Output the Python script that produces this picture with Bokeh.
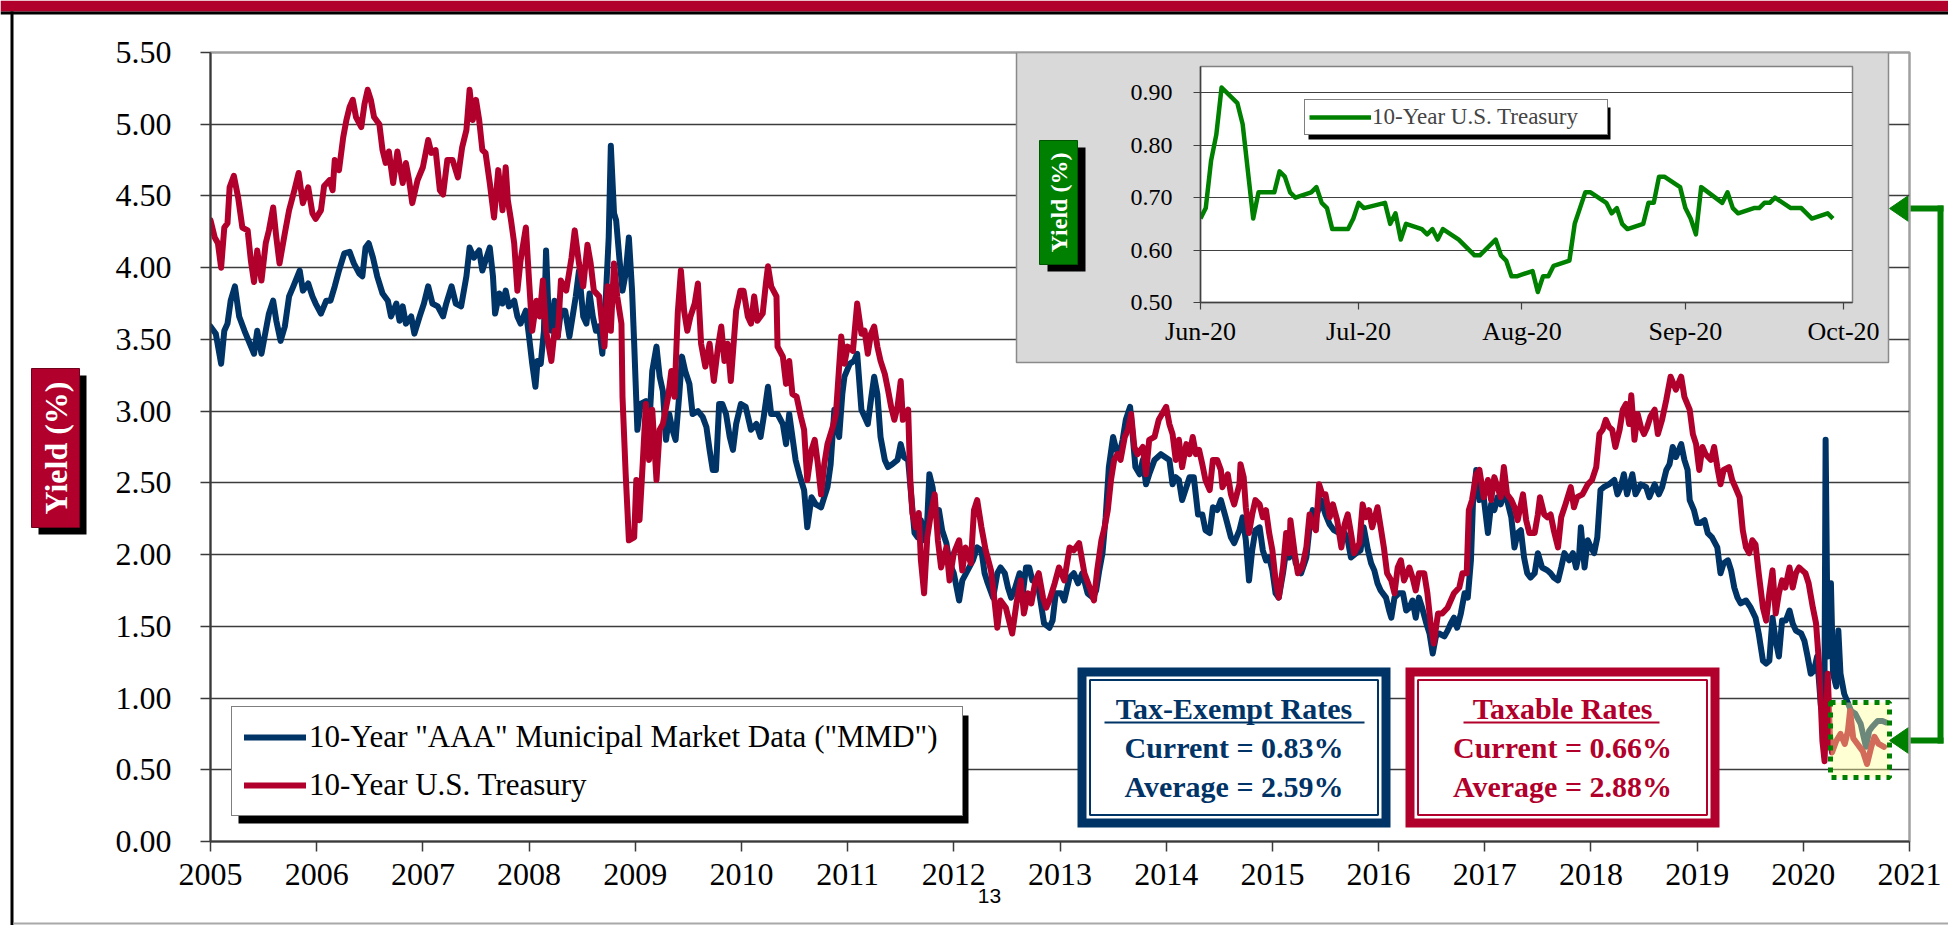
import math
from datetime import datetime
from bokeh.plotting import figure
from bokeh.layouts import column
from bokeh.models import (Range1d, FixedTicker, NumeralTickFormatter, DatetimeTickFormatter,
                          Legend, LegendItem)
from bokeh.embed import file_html
from bokeh.resources import INLINE
from bokeh.core.properties import value

# ---------------------------------------------------------------- data
year_ticks = list(range(2005, 2022))
year_labels = [str(y) for y in year_ticks]
yield_ticks = [0.0, 0.5, 1.0, 1.5, 2.0, 2.5, 3.0, 3.5, 4.0, 4.5, 5.0, 5.5]

tsy_year = [
    2005.00, 2005.04, 2005.07, 2005.10, 2005.13, 2005.16, 2005.18, 2005.22, 2005.26, 2005.30, 2005.35, 2005.38, 2005.41, 2005.44,
    2005.48, 2005.52, 2005.55, 2005.59, 2005.62, 2005.65, 2005.70, 2005.74, 2005.79, 2005.83, 2005.87, 2005.92, 2005.96, 2005.99,
    2006.04, 2006.07, 2006.12, 2006.15, 2006.17, 2006.21, 2006.25, 2006.28, 2006.31, 2006.34, 2006.37, 2006.42, 2006.45, 2006.48,
    2006.51, 2006.54, 2006.59, 2006.62, 2006.65, 2006.68, 2006.72, 2006.76, 2006.81, 2006.84, 2006.87, 2006.90, 2006.95,
    2007.00, 2007.05, 2007.08, 2007.12, 2007.16, 2007.19, 2007.23, 2007.28, 2007.33, 2007.37, 2007.41, 2007.44, 2007.47, 2007.50,
    2007.53, 2007.56, 2007.59, 2007.63, 2007.67, 2007.71, 2007.75, 2007.78, 2007.80, 2007.83, 2007.86, 2007.89, 2007.92, 2007.97,
    2008.00, 2008.03, 2008.07, 2008.10, 2008.13, 2008.16, 2008.21, 2008.24, 2008.27, 2008.30, 2008.35, 2008.40, 2008.43, 2008.47,
    2008.51, 2008.55, 2008.58, 2008.61, 2008.66, 2008.71, 2008.74, 2008.77, 2008.80, 2008.83, 2008.87, 2008.88, 2008.91, 2008.94, 2008.99,
    2009.01, 2009.04, 2009.07, 2009.10, 2009.13, 2009.16, 2009.20, 2009.23, 2009.26, 2009.31, 2009.34, 2009.37, 2009.40, 2009.43,
    2009.46, 2009.49, 2009.52, 2009.56, 2009.59, 2009.62, 2009.66, 2009.70, 2009.74, 2009.78, 2009.81, 2009.84, 2009.87, 2009.90,
    2009.95, 2009.99,
    2010.02, 2010.06, 2010.09, 2010.12, 2010.15, 2010.20, 2010.23, 2010.25, 2010.28, 2010.33, 2010.34, 2010.39, 2010.42, 2010.45,
    2010.48, 2010.52, 2010.56, 2010.59, 2010.62, 2010.66, 2010.69, 2010.72, 2010.75, 2010.78, 2010.81, 2010.86, 2010.89, 2010.92,
    2010.94, 2010.97,
    2011.00, 2011.05, 2011.09, 2011.13, 2011.16, 2011.19, 2011.22, 2011.25, 2011.28, 2011.31, 2011.35, 2011.38, 2011.41, 2011.44,
    2011.47, 2011.50, 2011.52, 2011.57, 2011.59, 2011.61, 2011.64, 2011.67, 2011.69, 2011.72, 2011.75, 2011.785, 2011.82, 2011.85,
    2011.88, 2011.93, 2011.96,
    2012.00, 2012.05, 2012.08, 2012.11, 2012.16, 2012.19, 2012.22, 2012.26, 2012.30, 2012.35, 2012.38, 2012.41, 2012.44, 2012.49,
    2012.52, 2012.55, 2012.59, 2012.63, 2012.66, 2012.70, 2012.73, 2012.77, 2012.80, 2012.84, 2012.87, 2012.90, 2012.95, 2012.99,
    2013.04, 2013.09, 2013.13, 2013.18, 2013.23, 2013.28, 2013.32, 2013.35, 2013.39, 2013.42, 2013.45, 2013.48, 2013.51, 2013.54,
    2013.57, 2013.61, 2013.64, 2013.67, 2013.70, 2013.73, 2013.78, 2013.81, 2013.84, 2013.89, 2013.93,
    2014.00, 2014.03, 2014.06, 2014.09, 2014.12, 2014.15, 2014.19, 2014.22, 2014.25, 2014.28, 2014.31, 2014.34, 2014.37, 2014.41,
    2014.44, 2014.48, 2014.515, 2014.53, 2014.58, 2014.61, 2014.64, 2014.69, 2014.70, 2014.73, 2014.75, 2014.78, 2014.81, 2014.84,
    2014.88, 2014.91, 2014.94, 2014.97,
    2015.00, 2015.03, 2015.06, 2015.10, 2015.13, 2015.16, 2015.17, 2015.21, 2015.24, 2015.28, 2015.32, 2015.35, 2015.38, 2015.41,
    2015.44, 2015.47, 2015.50, 2015.54, 2015.57, 2015.61, 2015.65, 2015.68, 2015.71, 2015.74, 2015.77, 2015.82, 2015.85, 2015.88,
    2015.91, 2015.94, 2015.99,
    2016.02, 2016.05, 2016.08, 2016.12, 2016.15, 2016.18, 2016.21, 2016.24, 2016.29, 2016.32, 2016.35, 2016.38, 2016.43, 2016.46,
    2016.49, 2016.52, 2016.56, 2016.60, 2016.65, 2016.68, 2016.71, 2016.76, 2016.79, 2016.83, 2016.85, 2016.88, 2016.92, 2016.95, 2016.99,
    2017.03, 2017.06, 2017.09, 2017.12, 2017.15, 2017.18, 2017.21, 2017.25, 2017.28, 2017.31, 2017.36, 2017.39, 2017.42, 2017.47,
    2017.50, 2017.52, 2017.56, 2017.59, 2017.62, 2017.65, 2017.69, 2017.72, 2017.76, 2017.81, 2017.84, 2017.87, 2017.92, 2017.97,
    2018.01, 2018.05, 2018.08, 2018.11, 2018.14, 2018.17, 2018.20, 2018.23, 2018.27, 2018.30, 2018.33, 2018.36, 2018.38, 2018.41,
    2018.44, 2018.47, 2018.50, 2018.53, 2018.56, 2018.60, 2018.63, 2018.67, 2018.71, 2018.75, 2018.80, 2018.85, 2018.88, 2018.93,
    2018.96, 2018.99,
    2019.02, 2019.05, 2019.08, 2019.13, 2019.16, 2019.19, 2019.22, 2019.25, 2019.30, 2019.33, 2019.36, 2019.40, 2019.43, 2019.46,
    2019.49, 2019.52, 2019.55, 2019.58, 2019.62, 2019.65, 2019.68, 2019.71, 2019.74, 2019.77, 2019.80, 2019.83, 2019.87, 2019.90,
    2019.93, 2019.96, 2019.99,
    2020.02, 2020.05, 2020.09, 2020.12, 2020.15, 2020.18, 2020.20, 2020.23, 2020.25, 2020.27, 2020.31, 2020.35, 2020.39, 2020.42,
    2020.44, 2020.47, 2020.51, 2020.56, 2020.60, 2020.64, 2020.67, 2020.71, 2020.76,
]
tsy_yield = [
    4.33, 4.21, 4.17, 4.00, 4.28, 4.31, 4.56, 4.64, 4.49, 4.28, 4.26, 4.05, 3.90, 4.12,
    3.91, 4.17, 4.26, 4.42, 4.21, 4.03, 4.24, 4.40, 4.54, 4.66, 4.45, 4.56, 4.38, 4.34,
    4.40, 4.57, 4.61, 4.54, 4.75, 4.68, 4.91, 5.03, 5.12, 5.17, 5.05, 4.98, 5.14, 5.24,
    5.17, 5.05, 5.00, 4.82, 4.73, 4.81, 4.59, 4.81, 4.59, 4.73, 4.61, 4.45, 4.61,
    4.70, 4.89, 4.80, 4.82, 4.54, 4.51, 4.75, 4.75, 4.63, 4.84, 4.96, 5.24, 5.03, 5.17,
    5.03, 4.82, 4.80, 4.59, 4.35, 4.68, 4.40, 4.70, 4.47, 4.33, 4.17, 3.84, 4.05, 4.28,
    3.91, 3.56, 3.77, 3.66, 3.91, 3.56, 3.35, 3.56, 3.52, 3.91, 3.84, 4.07, 4.26, 4.03,
    3.87, 4.16, 4.03, 3.84, 3.80, 3.45, 3.87, 3.56, 4.03, 3.80, 3.61, 3.10, 2.56, 2.10, 2.12,
    2.52, 2.24, 2.63, 3.05, 2.66, 3.01, 2.52, 2.87, 2.91, 3.10, 3.28, 3.10, 3.68, 3.98,
    3.70, 3.56, 3.66, 3.75, 3.89, 3.47, 3.31, 3.47, 3.21, 3.45, 3.59, 3.35, 3.47, 3.21,
    3.70, 3.84,
    3.84, 3.66, 3.61, 3.80, 3.63, 3.68, 3.89, 4.01, 3.87, 3.80, 3.45, 3.38, 3.19, 3.35,
    3.12, 3.10, 2.96, 2.87, 2.52, 2.73, 2.80, 2.63, 2.42, 2.63, 2.77, 2.89, 2.98, 3.31,
    3.52, 3.33,
    3.45, 3.42, 3.75, 3.54, 3.56, 3.40, 3.54, 3.59, 3.45, 3.35, 3.26, 3.15, 3.03, 2.94,
    3.03, 3.21, 2.94, 3.01, 2.52, 2.29, 2.19, 2.29, 1.96, 1.73, 2.12, 2.29, 2.42, 2.10,
    1.91, 2.05, 1.82,
    2.01, 2.10, 1.89, 2.05, 1.94, 2.31, 2.38, 2.19, 2.03, 1.89, 1.70, 1.49, 1.68, 1.63,
    1.54, 1.45, 1.66, 1.82, 1.59, 1.73, 1.66, 1.82, 1.87, 1.70, 1.63, 1.68, 1.80, 1.91,
    1.82, 2.05, 2.03, 2.08, 1.87, 1.77, 1.68, 1.89, 2.10, 2.19, 2.31, 2.52, 2.66, 2.70,
    2.66, 2.82, 2.87, 2.98, 2.75, 2.70, 2.75, 2.56, 2.80, 2.82, 2.94,
    3.03, 2.91, 2.84, 2.66, 2.80, 2.61, 2.77, 2.70, 2.82, 2.70, 2.73, 2.63, 2.52, 2.45,
    2.66, 2.66, 2.59, 2.47, 2.56, 2.42, 2.35, 2.49, 2.63, 2.54, 2.33, 2.15, 2.28, 2.38,
    2.35, 2.26, 2.31, 2.15,
    2.03, 1.82, 1.70, 1.91, 2.15, 2.01, 2.24, 2.01, 1.87, 1.91, 2.05, 2.28, 2.21, 2.17,
    2.49, 2.42, 2.42, 2.26, 2.35, 2.24, 2.05, 2.21, 2.28, 2.15, 2.01, 2.08, 2.35, 2.26,
    2.31, 2.19, 2.33,
    2.19, 2.05, 1.87, 1.82, 1.73, 1.91, 1.96, 1.82, 1.91, 1.84, 1.75, 1.87, 1.87, 1.73,
    1.52, 1.38, 1.59, 1.59, 1.63, 1.68, 1.73, 1.77, 1.87, 1.87, 2.31, 2.38, 2.56, 2.59, 2.40,
    2.52, 2.38, 2.54, 2.47, 2.40, 2.61, 2.42, 2.38, 2.33, 2.24, 2.42, 2.24, 2.15, 2.15,
    2.28, 2.40, 2.28, 2.26, 2.28, 2.17, 2.05, 2.26, 2.35, 2.47, 2.33, 2.40, 2.42, 2.49,
    2.52, 2.61, 2.84, 2.87, 2.94, 2.89, 2.87, 2.75, 2.87, 3.01, 3.05, 2.91, 3.11, 2.80,
    2.98, 2.89, 2.84, 2.89, 2.96, 3.01, 2.84, 2.94, 3.08, 3.24, 3.15, 3.24, 3.10, 3.01,
    2.84, 2.77,
    2.59, 2.75, 2.70, 2.66, 2.75, 2.61, 2.49, 2.59, 2.61, 2.52, 2.47, 2.40, 2.17, 2.05,
    2.01, 2.10, 2.07, 1.87, 1.63, 1.54, 1.73, 1.89, 1.59, 1.73, 1.82, 1.77, 1.91, 1.77,
    1.87, 1.91, 1.89,
    1.87, 1.80, 1.63, 1.52, 1.22, 0.70, 0.56, 1.17, 0.75, 0.62, 0.70, 0.75, 0.68, 0.77,
    0.91, 0.72, 0.68, 0.63, 0.54, 0.66, 0.73, 0.68, 0.66,
]

mmd_year = [
    2005.00, 2005.05, 2005.10, 2005.13, 2005.16, 2005.19, 2005.23, 2005.27, 2005.32, 2005.37, 2005.41, 2005.44, 2005.48, 2005.52,
    2005.55, 2005.59, 2005.62, 2005.66, 2005.70, 2005.74, 2005.78, 2005.84, 2005.87, 2005.92, 2005.96, 2005.99,
    2006.04, 2006.09, 2006.13, 2006.17, 2006.21, 2006.26, 2006.31, 2006.35, 2006.40, 2006.43, 2006.46, 2006.49, 2006.53, 2006.57,
    2006.62, 2006.67, 2006.70, 2006.75, 2006.78, 2006.81, 2006.84, 2006.89, 2006.92, 2006.97,
    2007.01, 2007.05, 2007.09, 2007.14, 2007.19, 2007.22, 2007.27, 2007.31, 2007.36, 2007.41, 2007.44, 2007.48, 2007.53, 2007.56,
    2007.59, 2007.63, 2007.66, 2007.68, 2007.72, 2007.75, 2007.78, 2007.81, 2007.86, 2007.89, 2007.92, 2007.97,
    2008.00, 2008.03, 2008.06, 2008.08, 2008.11, 2008.14, 2008.16, 2008.18, 2008.21, 2008.24, 2008.27, 2008.30, 2008.34, 2008.38,
    2008.41, 2008.44, 2008.47, 2008.51, 2008.54, 2008.57, 2008.60, 2008.63, 2008.66, 2008.69, 2008.72, 2008.75, 2008.77, 2008.80,
    2008.82, 2008.85, 2008.88, 2008.91, 2008.94, 2008.97, 2008.99,
    2009.02, 2009.05, 2009.10, 2009.13, 2009.16, 2009.20, 2009.23, 2009.26, 2009.29, 2009.32, 2009.35, 2009.38, 2009.415, 2009.44,
    2009.47, 2009.51, 2009.54, 2009.59, 2009.635, 2009.67, 2009.70, 2009.73, 2009.76, 2009.79, 2009.82, 2009.855, 2009.89, 2009.92,
    2009.95, 2009.995,
    2010.04, 2010.09, 2010.14, 2010.18, 2010.21, 2010.25, 2010.28, 2010.34, 2010.39, 2010.42, 2010.45, 2010.48, 2010.51, 2010.545,
    2010.59, 2010.62, 2010.66, 2010.70, 2010.75, 2010.78, 2010.81, 2010.84, 2010.875, 2010.92, 2010.95, 2010.97,
    2011.02, 2011.06, 2011.09, 2011.13, 2011.16, 2011.19, 2011.22, 2011.25, 2011.28, 2011.31, 2011.35, 2011.38, 2011.42, 2011.47,
    2011.50, 2011.53, 2011.57, 2011.60, 2011.63, 2011.66, 2011.69, 2011.72, 2011.75, 2011.77, 2011.80, 2011.83, 2011.86, 2011.89,
    2011.93, 2011.96,
    2012.00, 2012.05, 2012.08, 2012.13, 2012.18, 2012.22, 2012.26, 2012.29, 2012.32, 2012.37, 2012.41, 2012.44, 2012.48, 2012.51,
    2012.54, 2012.57, 2012.62, 2012.65, 2012.68, 2012.71, 2012.74, 2012.79, 2012.82, 2012.85, 2012.90, 2012.93, 2012.96,
    2013.01, 2013.04, 2013.09, 2013.13, 2013.17, 2013.21, 2013.26, 2013.31, 2013.34, 2013.37, 2013.40, 2013.43, 2013.46, 2013.50,
    2013.53, 2013.56, 2013.59, 2013.62, 2013.66, 2013.68, 2013.71, 2013.75, 2013.78, 2013.81, 2013.84, 2013.89, 2013.95,
    2014.03, 2014.06, 2014.09, 2014.12, 2014.15, 2014.19, 2014.22, 2014.26, 2014.30, 2014.34, 2014.37, 2014.41, 2014.44, 2014.48,
    2014.515, 2014.56, 2014.61, 2014.64, 2014.69, 2014.72, 2014.75, 2014.78, 2014.81, 2014.84, 2014.88, 2014.91, 2014.94, 2014.97,
    2015.00, 2015.03, 2015.06, 2015.10, 2015.13, 2015.16, 2015.19, 2015.22, 2015.27, 2015.32, 2015.35, 2015.38, 2015.41, 2015.46,
    2015.50, 2015.54, 2015.58, 2015.63, 2015.68, 2015.71, 2015.74, 2015.79, 2015.83, 2015.86, 2015.90, 2015.93, 2015.96, 2015.99,
    2016.02, 2016.07, 2016.10, 2016.12, 2016.15, 2016.19, 2016.23, 2016.26, 2016.29, 2016.32, 2016.35, 2016.38, 2016.41, 2016.45,
    2016.48, 2016.51, 2016.54, 2016.57, 2016.62, 2016.65, 2016.68, 2016.71, 2016.74, 2016.775, 2016.81, 2016.84, 2016.87, 2016.89,
    2016.92, 2016.95, 2016.99,
    2017.03, 2017.06, 2017.09, 2017.12, 2017.15, 2017.18, 2017.21, 2017.25, 2017.28, 2017.31, 2017.34, 2017.37, 2017.40, 2017.43,
    2017.47, 2017.50, 2017.54, 2017.59, 2017.62, 2017.65, 2017.69, 2017.72, 2017.75, 2017.795, 2017.83, 2017.86, 2017.89, 2017.905,
    2017.94, 2017.97,
    2018.00, 2018.03, 2018.06, 2018.09, 2018.12, 2018.17, 2018.22, 2018.25, 2018.28, 2018.31, 2018.34, 2018.39, 2018.42, 2018.47,
    2018.52, 2018.55, 2018.60, 2018.64, 2018.67, 2018.71, 2018.74, 2018.77, 2018.80, 2018.85, 2018.88, 2018.91, 2018.93, 2018.97,
    2019.00, 2019.03, 2019.07, 2019.10, 2019.14, 2019.19, 2019.22, 2019.25, 2019.29, 2019.32, 2019.35, 2019.38, 2019.41, 2019.46,
    2019.505, 2019.55, 2019.58, 2019.62, 2019.65, 2019.68, 2019.71, 2019.74, 2019.77, 2019.80, 2019.835, 2019.87, 2019.90, 2019.93,
    2019.98,
    2020.01, 2020.04, 2020.07, 2020.10, 2020.13, 2020.165, 2020.20, 2020.21, 2020.23, 2020.26, 2020.28, 2020.31, 2020.33, 2020.35,
    2020.385, 2020.45, 2020.49, 2020.54, 2020.59, 2020.62, 2020.65, 2020.70, 2020.745, 2020.78,
]
mmd_yield = [
    3.59, 3.54, 3.33, 3.56, 3.61, 3.77, 3.87, 3.66, 3.56, 3.47, 3.40, 3.56, 3.40, 3.56,
    3.68, 3.77, 3.63, 3.49, 3.59, 3.80, 3.87, 3.98, 3.84, 3.89, 3.80, 3.75,
    3.68, 3.77, 3.77, 3.87, 3.98, 4.10, 4.11, 4.03, 3.96, 3.94, 4.14, 4.17, 4.07, 3.94,
    3.82, 3.77, 3.66, 3.75, 3.63, 3.73, 3.61, 3.66, 3.54, 3.66,
    3.75, 3.87, 3.75, 3.73, 3.66, 3.75, 3.87, 3.75, 3.73, 3.94, 4.14, 4.07, 4.12, 3.98,
    4.05, 4.14, 3.94, 3.68, 3.82, 3.75, 3.84, 3.73, 3.77, 3.66, 3.61, 3.70,
    3.52, 3.33, 3.17, 3.35, 3.33, 3.56, 4.12, 3.75, 3.56, 3.77, 3.52, 3.70, 3.70, 3.52,
    3.66, 3.80, 3.98, 3.66, 3.61, 3.82, 3.66, 3.56, 3.59, 3.40, 3.75, 4.21, 4.85, 4.38,
    4.33, 4.07, 3.84, 3.96, 4.21, 3.84, 3.47,
    2.87, 3.05, 3.07, 2.87, 3.28, 3.45, 3.24, 3.14, 2.80, 2.98, 2.87, 2.80, 3.12, 3.38,
    3.28, 3.19, 2.98, 3.00, 2.96, 2.89, 2.73, 2.59, 2.59, 3.05, 3.05, 2.98, 2.82, 2.73,
    2.91, 3.05,
    3.03, 2.87, 2.91, 2.82, 2.96, 3.17, 2.98, 2.98, 2.91, 2.77, 2.98, 2.82, 2.66, 2.56,
    2.45, 2.19, 2.40, 2.35, 2.33, 2.40, 2.47, 2.63, 3.01, 2.82, 3.12, 3.24,
    3.33, 3.35, 3.40, 3.01, 2.96, 2.91, 3.08, 3.24, 3.12, 2.82, 2.66, 2.61, 2.63, 2.66,
    2.77, 2.68, 2.66, 2.40, 2.15, 2.12, 2.24, 2.10, 2.24, 2.56, 2.47, 2.29, 2.31, 2.17,
    2.08, 1.94,
    1.87, 1.68, 1.82, 1.89, 1.96, 2.05, 2.03, 1.87, 1.80, 1.70, 1.87, 1.91, 1.87, 1.77,
    1.70, 1.75, 1.87, 1.73, 1.91, 1.91, 1.82, 1.80, 1.66, 1.52, 1.49, 1.54, 1.73,
    1.73, 1.68, 1.84, 1.87, 1.80, 1.87, 1.73, 1.70, 1.75, 1.89, 2.01, 2.26, 2.61, 2.82,
    2.73, 2.70, 2.80, 2.94, 3.03, 2.87, 2.61, 2.56, 2.66, 2.49, 2.56, 2.66, 2.70,
    2.66, 2.49, 2.54, 2.52, 2.38, 2.47, 2.54, 2.54, 2.28, 2.28, 2.17, 2.15, 2.33, 2.31,
    2.38, 2.26, 2.12, 2.08, 2.17, 2.26, 2.10, 1.82, 2.03, 2.17, 2.19, 2.03, 1.96, 1.98,
    1.89, 1.73, 1.70, 1.87, 2.03, 1.98, 2.08, 1.94, 1.87, 1.98, 2.19, 2.31, 2.26, 2.38,
    2.28, 2.21, 2.17, 2.15, 2.15, 2.10, 1.98, 2.01, 2.03, 2.19, 2.03, 1.94, 1.89, 1.80,
    1.75, 1.70, 1.61, 1.56, 1.70, 1.73, 1.73, 1.61, 1.63, 1.68, 1.56, 1.70, 1.63, 1.52,
    1.45, 1.31, 1.43, 1.45, 1.43, 1.47, 1.52, 1.56, 1.49, 1.59, 1.73, 1.70, 1.96, 2.38,
    2.59, 2.38, 2.40,
    2.15, 2.35, 2.31, 2.40, 2.35, 2.42, 2.38, 2.26, 2.05, 2.15, 2.17, 1.98, 1.87, 1.84,
    1.87, 2.01, 1.91, 1.89, 1.87, 1.84, 1.82, 1.91, 2.01, 1.96, 2.01, 1.91, 2.01, 2.19,
    1.91, 2.10,
    2.05, 2.01, 2.12, 2.45, 2.47, 2.49, 2.52, 2.42, 2.47, 2.56, 2.42, 2.56, 2.42, 2.49,
    2.47, 2.40, 2.49, 2.42, 2.47, 2.59, 2.63, 2.75, 2.68, 2.77, 2.66, 2.59, 2.38, 2.31,
    2.22, 2.22, 2.24, 2.15, 2.12, 2.05, 1.87, 1.94, 1.96, 1.89, 1.77, 1.70, 1.66, 1.68,
    1.63, 1.56, 1.45, 1.26, 1.24, 1.26, 1.56, 1.40, 1.29, 1.54, 1.54, 1.61, 1.52, 1.47,
    1.45,
    1.40, 1.29, 1.17, 1.19, 1.29, 0.95, 1.17, 2.80, 1.29, 1.80, 1.17, 1.08, 1.47, 1.17,
    1.03, 0.91, 0.89, 0.82, 0.66, 0.77, 0.80, 0.84, 0.84, 0.83,
]

inset_dates = [
    "2020-06-01", "2020-06-02", "2020-06-03", "2020-06-04", "2020-06-05", "2020-06-08", "2020-06-09", "2020-06-10",
    "2020-06-11", "2020-06-12", "2020-06-15", "2020-06-16", "2020-06-17", "2020-06-18", "2020-06-19", "2020-06-22",
    "2020-06-23", "2020-06-24", "2020-06-25", "2020-06-26", "2020-06-29", "2020-06-30",
    "2020-07-01", "2020-07-02", "2020-07-06", "2020-07-07", "2020-07-08", "2020-07-09", "2020-07-10", "2020-07-13",
    "2020-07-14", "2020-07-15", "2020-07-16", "2020-07-17", "2020-07-20", "2020-07-21", "2020-07-22", "2020-07-23",
    "2020-07-24", "2020-07-27", "2020-07-28", "2020-07-29", "2020-07-30", "2020-07-31",
    "2020-08-03", "2020-08-04", "2020-08-05", "2020-08-06", "2020-08-07", "2020-08-10", "2020-08-11", "2020-08-12",
    "2020-08-13", "2020-08-14", "2020-08-17", "2020-08-18", "2020-08-19", "2020-08-20", "2020-08-21", "2020-08-24",
    "2020-08-25", "2020-08-26", "2020-08-27", "2020-08-28", "2020-08-31",
    "2020-09-01", "2020-09-02", "2020-09-03", "2020-09-04", "2020-09-08", "2020-09-09", "2020-09-10", "2020-09-11",
    "2020-09-14", "2020-09-15", "2020-09-16", "2020-09-17", "2020-09-18", "2020-09-21", "2020-09-22", "2020-09-23",
    "2020-09-24", "2020-09-25", "2020-09-28", "2020-09-29",
]
inset_yield = [
    0.66, 0.68, 0.77, 0.82, 0.91, 0.88, 0.84, 0.75,
    0.66, 0.71, 0.71, 0.75, 0.74, 0.71, 0.70, 0.71,
    0.72, 0.69, 0.68, 0.64, 0.64, 0.66,
    0.69, 0.68, 0.69, 0.65, 0.67, 0.62, 0.65, 0.64,
    0.63, 0.64, 0.62, 0.64, 0.62, 0.61, 0.60, 0.59,
    0.59, 0.62, 0.59, 0.58, 0.55, 0.55,
    0.56, 0.52, 0.55, 0.55, 0.57, 0.58, 0.65, 0.68,
    0.71, 0.71, 0.69, 0.67, 0.68, 0.65, 0.64, 0.65,
    0.69, 0.69, 0.74, 0.74, 0.72,
    0.68, 0.66, 0.63, 0.72, 0.69, 0.71, 0.68, 0.67,
    0.68, 0.68, 0.69, 0.69, 0.70, 0.68, 0.68, 0.68,
    0.67, 0.66, 0.67, 0.66,
]
inset_tick_dates = ["2020-06-01", "2020-07-01", "2020-08-01", "2020-09-01", "2020-10-01"]
inset_tick_labels = ["Jun-20", "Jul-20", "Aug-20", "Sep-20", "Oct-20"]
inset_yield_ticks = [0.5, 0.6, 0.7, 0.8, 0.9]

legend_labels = ['10-Year "AAA" Municipal Market Data ("MMD")', "10-Year U.S. Treasury"]
tax_exempt_lines = ["Tax-Exempt Rates", "Current = 0.83%", "Average = 2.59%"]
taxable_lines = ["Taxable Rates", "Current = 0.66%", "Average = 2.88%"]

# ---------------------------------------------------------------- style
NAVY = "#003366"
RED = "#B1002B"
GREEN = "#008000"
SERIF = "Liberation Serif"
W, H = 1948, 925


def no_frame_align(fig):
    try:
        fig.frame_align = False
    except AttributeError:
        pass


# ---------------------------------------------------------------- slide background layer (pixel space)
bg = figure(width=W, height=H, x_range=Range1d(0, W), y_range=Range1d(H, 0),
            x_axis_type=None, y_axis_type=None, output_backend="svg",
            toolbar_location=None, min_border=0, title=None)
no_frame_align(bg)
bg.outline_line_color = None
bg.background_fill_color = "white"
bg.border_fill_color = "white"


def bquad(x0, x1, y0, y1, color):
    bg.quad(left=[x0], right=[x1], top=[y0], bottom=[y1], fill_color=color, line_color=None)


bquad(0, W, 0, 11, RED)              # slide title band
bquad(0, W, 11, 14, "black")
bquad(10, 13, 11, H, "black")        # slide left rule
bquad(13, W, 922, 924, "#A8A8A8")    # slide bottom rule
bquad(38, 86, 375, 534, "black")     # y-axis title shadow
bg.quad(left=[31], right=[79], top=[368], bottom=[527], fill_color=RED,
        line_color="#70001c", line_width=1)
bg.text(x=[55], y=[447.5], text=["Yield (%)"], angle=math.pi / 2, text_align="center",
        text_baseline="middle", text_color="white", text_font=value(SERIF),
        text_font_style="bold", text_font_size="32px")
bg.text(x=[989], y=[895], text=["13"], text_align="center", text_baseline="middle",
        text_color="black", text_font=value("Liberation Sans"), text_font_size="21px")
# connector arrow between the highlighted period and the inset
bquad(1904, 1943, 205, 211, GREEN)
bquad(1937, 1943, 205, 743, GREEN)
bquad(1904, 1943, 737, 743, GREEN)
bg.patches(xs=[[1889, 1908, 1908], [1889, 1908, 1908]], ys=[[208, 195, 221], [740, 727, 753]],
           fill_color=GREEN, line_color=GREEN)

# ---------------------------------------------------------------- main chart
FX0, FX1, FY0, FY1 = 210, 1909, 52, 841


def mx(px):
    return 2005 + (px - FX0) / (FX1 - FX0) * 16


def my(py):
    return (FY1 - py) / (FY1 - FY0) * 5.5


p = figure(width=W, height=H, x_range=Range1d(2005, 2021), y_range=Range1d(0, 5.5),
           output_backend="svg", toolbar_location=None, title=None,
           min_border_left=FX0, min_border_right=W - FX1, min_border_top=FY0,
           min_border_bottom=H - FY1, margin=(-H, 0, 0, 0))
no_frame_align(p)
p.background_fill_color = None
p.border_fill_color = None
p.outline_line_color = "#A0A0A0"
p.outline_line_width = 2.5

p.xaxis.ticker = FixedTicker(ticks=year_ticks)
p.xaxis.major_label_overrides = dict(zip(year_ticks, year_labels))
p.yaxis.ticker = FixedTicker(ticks=yield_ticks)
p.yaxis.formatter = NumeralTickFormatter(format="0.00")
for ax in (p.xaxis[0], p.yaxis[0]):
    ax.major_label_text_font = SERIF
    ax.major_label_text_font_size = "32px"
    ax.major_label_text_color = "black"
    ax.major_tick_out = 10
    ax.major_tick_in = 0
    ax.minor_tick_out = 0
    ax.minor_tick_in = 0
    ax.axis_line_color = "#3a3a3a"
    ax.axis_line_width = 2
    ax.major_tick_line_color = "#3a3a3a"
    ax.major_tick_line_width = 1.5
p.yaxis.major_label_standoff = 29
p.xaxis.major_label_standoff = 12
p.xgrid.visible = False
p.ygrid.ticker = FixedTicker(ticks=yield_ticks)
p.ygrid.grid_line_color = "#3c3c3c"
p.ygrid.grid_line_width = 1.3

r_mmd = p.line(mmd_year, mmd_yield, line_color=NAVY, line_width=6, line_join="round", line_cap="round")
r_tsy = p.line(tsy_year, tsy_yield, line_color=RED, line_width=6, line_join="round", line_cap="round")

# highlighted recent period
p.quad(left=[mx(1830)], right=[mx(1889)], top=[my(702)], bottom=[my(777)],
       fill_color="#FFFF99", fill_alpha=0.42, line_color=GREEN, line_width=5, line_dash="5 6")

# inset background panel (covers the grid lines behind the inset)
p.quad(left=[mx(1016)], right=[mx(1888)], top=[my(52)], bottom=[my(362)],
       fill_color="#D9D9D9", line_color="#8A8A8A", line_width=1.5)
p.quad(left=[mx(1047)], right=[mx(1085)], top=[my(147)], bottom=[my(271)],
       fill_color="black", line_color=None)
p.quad(left=[mx(1039)], right=[mx(1077)], top=[my(140)], bottom=[my(264)],
       fill_color=GREEN, line_color="#005500", line_width=1)
p.text(x=[mx(1058)], y=[my(202)], text=["Yield (%)"], angle=math.pi / 2, text_align="center",
       text_baseline="middle", text_color="white", text_font=value(SERIF),
       text_font_style="bold", text_font_size="24px")

# legend shadow
p.quad(left=[mx(238)], right=[mx(968)], top=[my(715)], bottom=[my(823)],
       fill_color="black", line_color=None)


def rate_box(x0, x1, color, lines, ul):
    p.quad(left=[mx(x0)], right=[mx(x1)], top=[my(667)], bottom=[my(827)],
           fill_color=color, line_color=None)
    p.quad(left=[mx(x0 + 9)], right=[mx(x1 - 9)], top=[my(676)], bottom=[my(818)],
           fill_color="white", line_color=None)
    p.quad(left=[mx(x0 + 12.5)], right=[mx(x1 - 12.5)], top=[my(679.5)], bottom=[my(814.5)],
           fill_color="white", line_color=color, line_width=2)
    cx = (x0 + x1) / 2
    p.text(x=[mx(cx)] * 3, y=[my(708), my(747), my(786)], text=lines, text_align="center",
           text_baseline="middle", text_color=color, text_font=value(SERIF),
           text_font_style="bold", text_font_size="30px")
    p.line(x=[mx(ul[0]), mx(ul[1])], y=[my(722), my(722)], line_color=color, line_width=2)


rate_box(1077, 1390, NAVY, tax_exempt_lines, (1104, 1364))
rate_box(1405, 1719, RED, taxable_lines, (1463, 1659))

legend = Legend(items=[LegendItem(label=legend_labels[0], renderers=[r_mmd]),
                       LegendItem(label=legend_labels[1], renderers=[r_tsy])],
                location=(21, 25), orientation="vertical")
legend.border_line_color = "black"
legend.border_line_width = 1.5
legend.background_fill_color = "white"
legend.background_fill_alpha = 1.0
legend.label_text_font = SERIF
legend.label_text_font_size = "31px"
legend.label_text_color = "black"
legend.glyph_width = 62
legend.glyph_height = 36
legend.label_height = 36
legend.label_width = 641
legend.label_standoff = 3
legend.spacing = 12
legend.padding = 12
legend.margin = 0
p.add_layout(legend)

# ---------------------------------------------------------------- inset chart
ins_start = datetime(2020, 6, 1)
ins_end = datetime(2020, 10, 2, 17)
EPOCH = datetime(1970, 1, 1)


def ms(d):
    return (d - EPOCH).total_seconds() * 1000.0


IX0, IX1, IY0, IY1 = 1200, 1852, 66, 302
INS_L, INS_T, INS_W, INS_H = 990, 52, 901, 310   # same side borders as the main chart


def ix(px):
    return ms(ins_start) + (px - IX0) / (IX1 - IX0) * (ms(ins_end) - ms(ins_start))


def iy(py):
    return 0.5 + (IY1 - py) / (IY1 - IY0) * 0.45


ins = figure(width=INS_W, height=INS_H, x_axis_type="datetime",
             x_range=Range1d(ins_start, ins_end), y_range=Range1d(0.5, 0.95),
             output_backend="svg", toolbar_location=None, title=None,
             min_border_left=IX0 - INS_L, min_border_right=INS_L + INS_W - IX1,
             min_border_top=IY0 - INS_T, min_border_bottom=INS_T + INS_H - IY1,
             margin=(INS_T - H, 0, H - INS_T - INS_H, INS_L))
no_frame_align(ins)
ins.border_fill_color = None
ins.background_fill_color = "white"
ins.outline_line_color = "#808080"
ins.outline_line_width = 1.5

tick_ms = [ms(datetime.strptime(d, "%Y-%m-%d")) for d in inset_tick_dates]
ins.xaxis.ticker = FixedTicker(ticks=tick_ms)
ins.xaxis.formatter = DatetimeTickFormatter(days="%b-%y", months="%b-%y", years="%b-%y")
ins.xaxis.major_label_overrides = dict(zip(tick_ms, inset_tick_labels))
ins.yaxis.ticker = FixedTicker(ticks=inset_yield_ticks)
ins.yaxis.formatter = NumeralTickFormatter(format="0.00")
for ax in (ins.xaxis[0], ins.yaxis[0]):
    ax.major_label_text_font = SERIF
    ax.major_label_text_color = "black"
    ax.major_tick_out = 7
    ax.major_tick_in = 0
    ax.minor_tick_out = 0
    ax.minor_tick_in = 0
    ax.axis_line_color = "#404040"
    ax.axis_line_width = 1.5
    ax.major_tick_line_color = "#404040"
    ax.major_tick_line_width = 1.2
ins.yaxis.major_label_text_font_size = "24px"
ins.xaxis.major_label_text_font_size = "26px"
ins.yaxis.major_label_standoff = 21
ins.xaxis.major_label_standoff = 7
ins.xgrid.visible = False
ins.ygrid.ticker = FixedTicker(ticks=inset_yield_ticks)
ins.ygrid.grid_line_color = "#404040"
ins.ygrid.grid_line_width = 1.1

inset_dt = [datetime.strptime(d, "%Y-%m-%d") for d in inset_dates]
r_green = ins.line(inset_dt, inset_yield, line_color=GREEN, line_width=4.5, line_join="round")

ins.quad(left=[ix(1308)], right=[ix(1610)], top=[iy(107)], bottom=[iy(139)],
         fill_color="black", line_color=None)
ins_legend = Legend(items=[LegendItem(label=legend_labels[1], renderers=[r_green])],
                    location=(104, 167))
ins_legend.border_line_color = "black"
ins_legend.border_line_width = 1
ins_legend.background_fill_color = "white"
ins_legend.background_fill_alpha = 1.0
ins_legend.label_text_font = SERIF
ins_legend.label_text_font_size = "23px"
ins_legend.glyph_width = 62
ins_legend.glyph_height = 24
ins_legend.label_height = 24
ins_legend.label_width = 231
ins_legend.label_standoff = 1
ins_legend.padding = 4
ins_legend.margin = 0
ins.add_layout(ins_legend)

page = column(bg, p, ins)
open("out.html", "w").write(file_html(page, INLINE))
